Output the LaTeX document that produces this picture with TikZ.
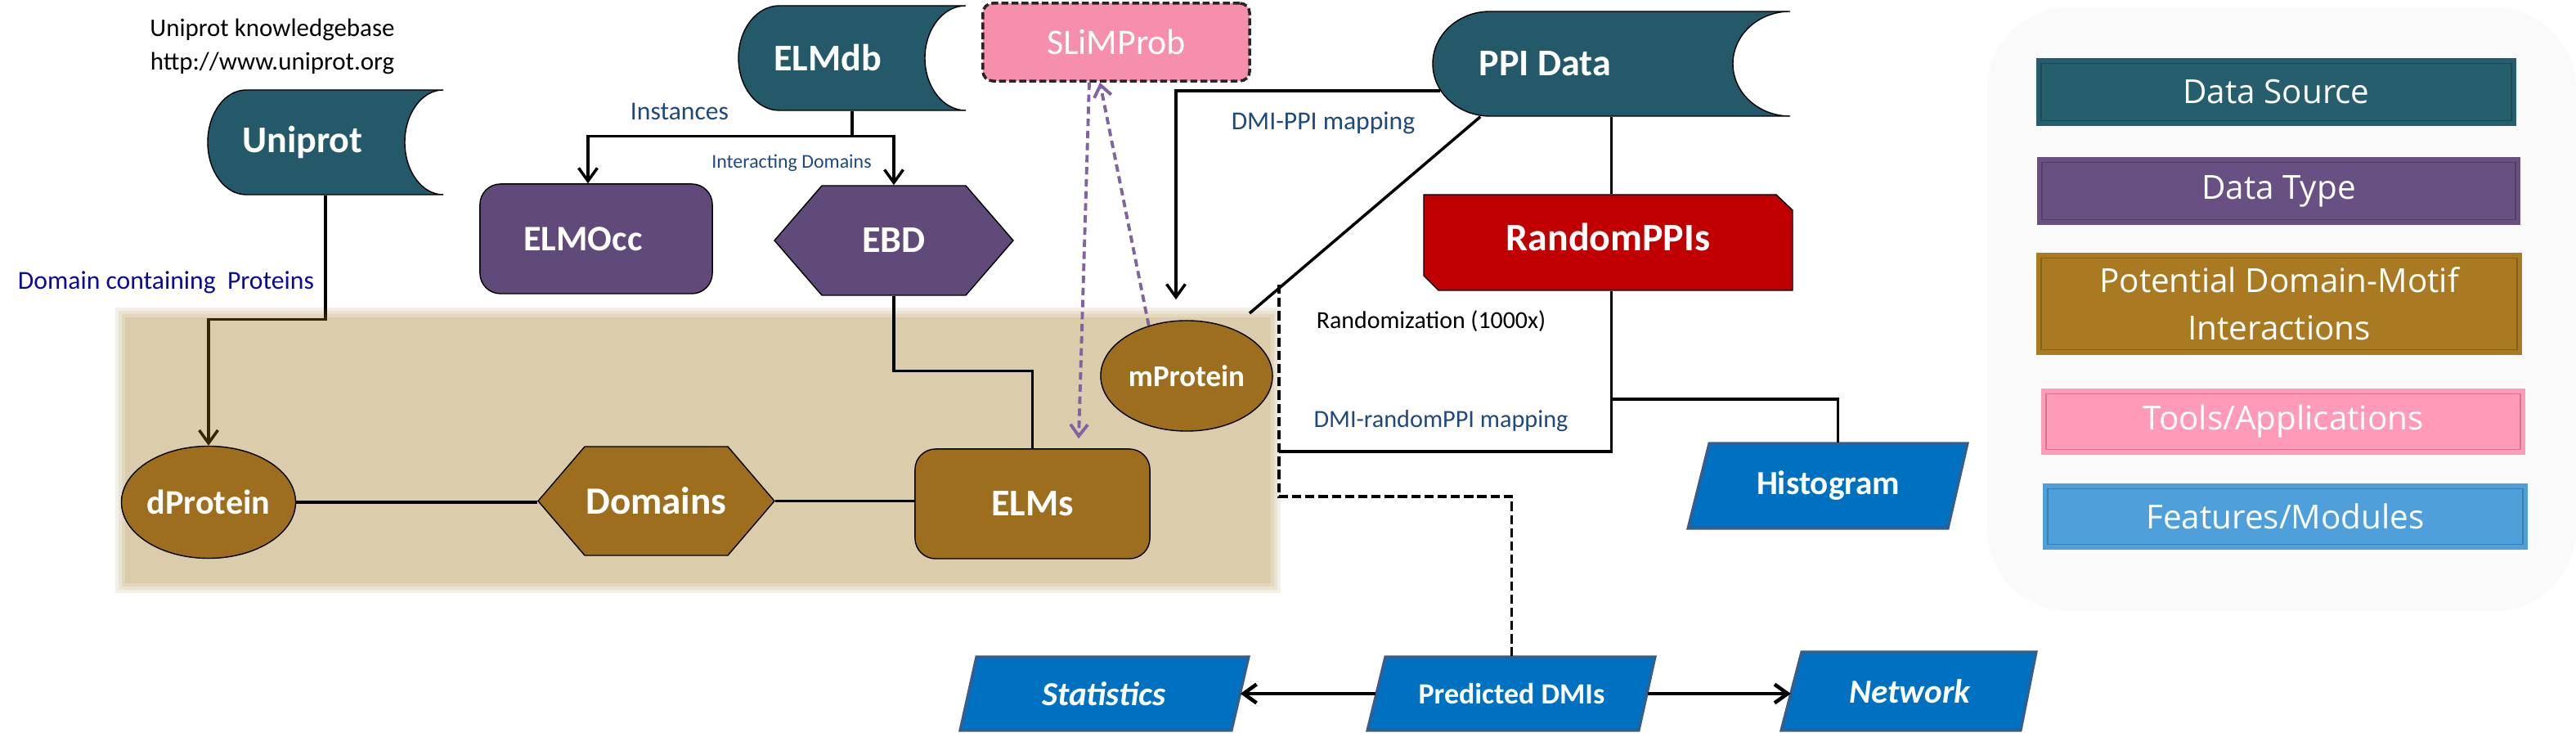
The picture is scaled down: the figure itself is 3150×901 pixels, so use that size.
\documentclass[tikz,border=0pt]{standalone}
\usepackage{fontspec}
\setmainfont{Carlito}
\newfontfamily\legfont{Open Sans}
\usetikzlibrary{shapes.geometric,arrows.meta,calc}
\pgfdeclarelayer{bg}
\pgfdeclarelayer{beige}
\pgfsetlayers{bg,beige,main}
\definecolor{dsrc}{RGB}{35,89,104}
\definecolor{dtype}{RGB}{95,74,122}
\definecolor{brownc}{RGB}{157,110,29}
\definecolor{pinkc}{RGB}{246,143,171}
\definecolor{redc}{RGB}{192,0,0}
\definecolor{bluec}{RGB}{0,112,192}
\definecolor{blueb}{RGB}{56,93,138}
\definecolor{purplec}{RGB}{128,100,162}
\definecolor{labblue}{RGB}{31,73,125}
\definecolor{navyc}{RGB}{10,10,150}
\definecolor{legbg}{RGB}{250,250,250}
\definecolor{beigec}{RGB}{152,109,18}
\definecolor{lgA}{RGB}{38,94,110}
\definecolor{lgB}{RGB}{104,81,130}
\definecolor{lgC}{RGB}{169,122,33}
\definecolor{lgD}{RGB}{255,155,185}
\definecolor{lgE}{RGB}{79,160,218}
\newcommand\dbshape[5]{%
 \pgfmathsetmacro\dbM{(#2+#4)/2}%
 \pgfmathsetmacro\dbH{0.5523*(#4-#2)/2}%
 \pgfmathsetmacro\dbK{0.5523*#5}%
 \filldraw[dsshape] ({#1+#5},#2) -- (#3,#2)
  .. controls ({#3-\dbK},#2) and ({#3-#5},{\dbM-\dbH}) .. ({#3-#5},\dbM)
  .. controls ({#3-#5},{\dbM+\dbH}) and ({#3-\dbK},#4) .. (#3,#4)
  -- ({#1+#5},#4)
  .. controls ({#1+#5-\dbK},#4) and (#1,{\dbM+\dbH}) .. (#1,\dbM)
  .. controls (#1,{\dbM-\dbH}) and ({#1+#5-\dbK},#2) .. ({#1+#5},#2) -- cycle;}
\newcommand\hexshape[6]{%
 \pgfmathsetmacro\hxM{(#2+#4)/2}%
 \filldraw[#6] (#1,\hxM) -- ({#1+#5},#2) -- ({#3-#5},#2) -- (#3,\hxM) -- ({#3-#5},#4) -- ({#1+#5},#4) -- cycle;}
\newcommand\legbar[7]{%
 \node[legbar, fill=#6, minimum width=#4cm, minimum height=#5cm] (#1) at (#2,#3) {#7};
 \draw[#6!70!black, line width=0.4pt, opacity=0.7] ([shift={(0.07cm,-0.07cm)}]#1.north west) rectangle ([shift={(-0.07cm,0.07cm)}]#1.south east);}
\begin{document}
\begin{tikzpicture}[x=0.01cm,y=-0.01cm,
  dsshape/.style={fill=dsrc, draw=black, line width=0.4pt},
  typeshape/.style={fill=dtype, draw=black, line width=0.4pt},
  brownshape/.style={fill=brownc, draw=black, line width=0.4pt},
  bluepara/.style={fill=bluec, draw=blueb, line width=0.9pt},
  nlabel/.style={inner sep=0pt, text=white, font=\bfseries\fontsize{13.1}{15}\selectfont},
  conn/.style={draw=black, line width=1pt},
  arr/.style={conn, -{Straight Barb[length=4.5pt,width=6.5pt]}},
  pdash/.style={draw=purplec, line width=1.1pt, dash pattern=on 2.6pt off 1.6pt, -{Straight Barb[length=4pt,width=6pt]}},
  kdash/.style={draw=black, line width=0.9pt, dash pattern=on 3.2pt off 1.4pt},
  lab/.style={inner sep=0pt, text=labblue, font=\fontsize{9}{11}\selectfont},
  legbar/.style={inner sep=0pt, text=white, font=\legfont\fontsize{11.5}{16.5}\selectfont, align=center}
]
\useasboundingbox (0,0) rectangle (3150,901);

% legend
\fill[legbg, rounded corners=1cm] (2430,9) rectangle (3150,747);
\legbar{lg1}{2783.5}{112.5}{5.87}{0.83}{lgA}{Data Source}
\legbar{lg2}{2786.5}{233.5}{5.91}{0.83}{lgB}{Data Type}
\legbar{lg3}{2787}{371.5}{5.94}{1.25}{lgC}{Potential Domain-Motif\\Interactions}
\legbar{lg4}{2792}{515.5}{5.92}{0.81}{lgD}{Tools/Applications}
\legbar{lg5}{2794.5}{631.5}{5.93}{0.81}{lgE}{Features/Modules}

% beige box
\begin{pgfonlayer}{beige}
\fill[beigec, fill opacity=0.35] (153,388) rectangle (1554,713);
\foreach \e in {4,8,12} \fill[beigec, fill opacity=0.1, even odd rule] ({153-\e},{388-\e}) rectangle ({1554+\e},{713+\e}) (153,388) rectangle (1554,713);
\end{pgfonlayer}

% data sources
\dbshape{254}{110}{542}{238}{47}
\node[nlabel, minimum width=2.88cm, minimum height=1.28cm] (uniprot) at (398,174) {Uniprot\hspace*{0.56cm}};
\dbshape{903}{7}{1181}{135}{50}
\node[nlabel, minimum width=2.78cm, minimum height=1.28cm] (elmdb) at (1042,71) {ELMdb\hspace*{0.6cm}};
\dbshape{1752}{14}{2189}{142}{70}
\node[nlabel, minimum width=4.37cm, minimum height=1.28cm] (ppi) at (1970.5,78) {PPI Data\hspace*{1.62cm}};

% tool
\node[inner sep=0pt, minimum width=3.26cm, minimum height=0.95cm, rounded corners=0.12cm, fill=pinkc, draw=black!85, line width=1pt, dash pattern=on 2.4pt off 1.1pt, text=white, font=\fontsize{12.5}{15}\selectfont] (slim) at (1365,51.5) {SLiMProb};

% data types
\node[typeshape, nlabel, rounded corners=0.25cm, minimum width=2.84cm, minimum height=1.34cm, font=\bfseries\fontsize{12.5}{15}\selectfont] (elmocc) at (729,292) {ELMOcc\hspace*{0.32cm}};
\hexshape{947}{227}{1239}{361}{58}{typeshape}
\node[nlabel, minimum width=2.92cm, minimum height=1.34cm] (ebd) at (1093,294) {EBD};

% brown
\node[ellipse, brownshape, nlabel, minimum width=1.99cm, minimum height=1.37cm, font=\bfseries\fontsize{12}{14}\selectfont] (dprot) at (255,614) {dProtein};
\hexshape{658}{546}{947}{679}{57}{brownshape}
\node[nlabel, minimum width=2.89cm, minimum height=1.33cm, font=\bfseries\fontsize{13.4}{16}\selectfont] (dom) at (802.5,612.5) {Domains};
\node[brownshape, nlabel, rounded corners=0.25cm, minimum width=2.87cm, minimum height=1.34cm] (elms) at (1262.5,616) {ELMs};
\node[ellipse, brownshape, nlabel, minimum width=2.1cm, minimum height=1.35cm, font=\bfseries\fontsize{10.5}{12.5}\selectfont] (mprot) at (1451,459.5) {mProtein};

% random PPIs
\filldraw[fill=redc, draw=black, line width=0.4pt] (1741,238) -- (2172,238) -- (2192,257) -- (2192,355) -- (1759,355) -- (1741,337) -- cycle;
\node[nlabel, minimum width=4.51cm, minimum height=1.17cm, font=\bfseries\fontsize{13.6}{16}\selectfont] (rand) at (1966.5,296.5) {\raisebox{0.13cm}{RandomPPIs}};

% features
\filldraw[bluepara] (2064,646) -- (2382,646) -- (2406,542) -- (2090,542) -- cycle;
\node[nlabel, minimum width=3.17cm, minimum height=1.04cm, font=\bfseries\fontsize{11.7}{14}\selectfont] (hist) at (2235.5,594) {Histogram};
\filldraw[bluepara] (1174,893) -- (1506,893) -- (1527,803) -- (1194,803) -- cycle;
\node[nlabel, minimum width=3.32cm, minimum height=0.9cm, font=\bfseries\itshape\fontsize{11.7}{14}\selectfont] (stat) at (1350,848) {Statistics};
\filldraw[bluepara] (1672,893) -- (2004,893) -- (2024,803) -- (1694,803) -- cycle;
\node[nlabel, minimum width=3.31cm, minimum height=0.9cm, font=\bfseries\fontsize{10.2}{12}\selectfont] (pred) at (1848.5,848) {Predicted DMIs};
\filldraw[bluepara] (2178,893) -- (2471,893) -- (2490,797) -- (2203,797) -- cycle;
\node[nlabel, minimum width=2.9cm, minimum height=0.96cm, font=\bfseries\itshape\fontsize{11.7}{14}\selectfont] (net) at (2335.5,845) {Network};

% connectors
\begin{pgfonlayer}{bg}
\draw[arr] (uniprot.south) -- ++(0,152) -| (dprot.north);
\end{pgfonlayer}
\draw[conn] (elmdb.south) -- ++(0,31) coordinate (eb);
\draw[arr] (eb) -| ([xshift=-0.1cm]elmocc.north);
\draw[arr] (eb) -| (ebd.north);
\draw[conn] (ebd.south) -- ++(0,92) -| (elms.north);
\draw[conn] (dprot.east) -- (dprot.east -| dom.west);
\draw[conn] (dom.east) -- (dom.east -| elms.west);

\coordinate (ppiL) at (1761,111);
\draw[arr] (ppiL) -| ([xshift=-0.13cm,yshift=0.25cm]mprot.north);
\coordinate (diagEnd) at (1528,383);
\draw[conn] ([xshift=0.59cm]ppi.south west) -- (diagEnd);
\draw[conn] (ppi.south) -- (ppi.south |- rand.north);
\coordinate (jl) at (1564,552);
\draw[conn] (ppi.south |- rand.south) |- (jl);
\coordinate (hb) at (1970.5,488);
\draw[conn] (hb) -| ([xshift=0.12cm]hist.north);
\coordinate (dtop) at (1564,348);
\coordinate (dcorner) at (1564,607);
\draw[kdash] (dtop) -- (dcorner) -| (pred.north);
\draw[arr, line width=1.3pt] (pred.west) -- (stat.east);
\draw[arr, line width=1.3pt] (pred.east) -- (pred.east -| net.west);

\draw[pdash] ([xshift=-0.33cm]slim.south) -- ([xshift=0.565cm,yshift=0.12cm]elms.north);
\draw[pdash] (mprot.127) -- ([xshift=-0.2cm]slim.south);

% labels
\node[inner sep=0pt, align=center, font=\fontsize{8.8}{11.9}\selectfont] (uniinfo) at (333,57) {Uniprot knowledgebase\\http://www.uniprot.org};
\node[lab, text=navyc] (ldcp) at (203,345) {Domain containing~ Proteins};
\node[lab] (linst) at (831,136) {Instances};
\node[lab, font=\fontsize{6.8}{8}\selectfont] (lintd) at (968,199) {Interacting Domains};
\node[lab] (ldmippi) at (1618,150) {DMI-PPI mapping};
\node[lab, text=black, font=\fontsize{8.5}{10}\selectfont] (lrand) at (1750,393) {Randomization (1000x)};
\node[lab, font=\fontsize{8.6}{10}\selectfont] (ldmirand) at (1762,515) {DMI-randomPPI mapping};
\end{tikzpicture}
\end{document}
